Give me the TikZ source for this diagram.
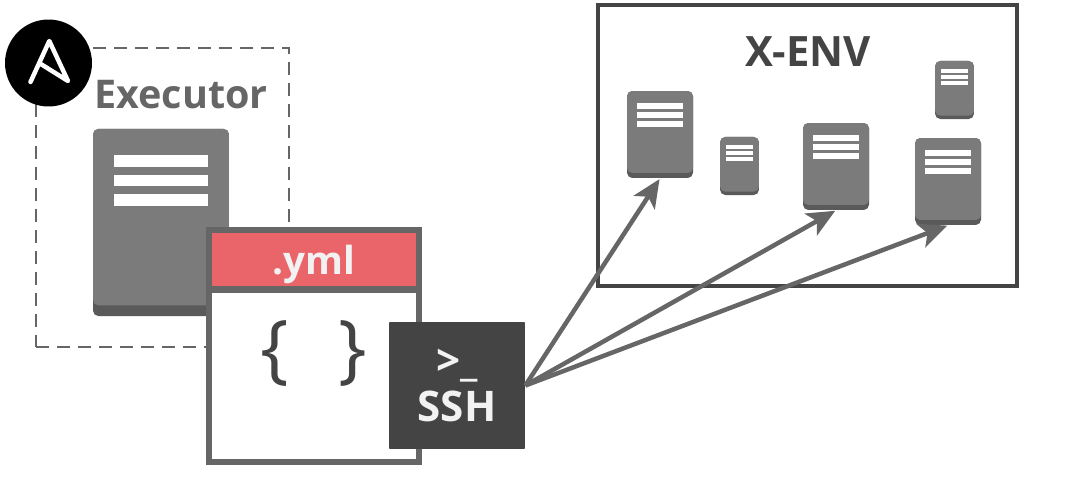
\documentclass[tikz,border=0pt]{standalone}
\usepackage{fontspec}
\setmainfont{Open Sans}
\usetikzlibrary{positioning,arrows.meta}
\definecolor{frame}{RGB}{102,102,102}
\definecolor{dark}{RGB}{68,68,68}
\definecolor{srvgray}{RGB}{123,123,123}
\definecolor{srvshade}{RGB}{90,90,90}
\definecolor{header}{RGB}{233,101,106}
\definecolor{paper}{RGB}{242,242,242}

% name, centre x, centre y, x scale, y scale
\newcommand{\serverbox}[5]{%
  \begin{scope}[shift={(#2,#3)},xscale=#4,yscale=#5,transform shape]
    \node[srvbase] (#1) at (0,0) {};
    \node[srvface] (#1-face) at (0,-2.5) {};
    \node[srvbar] (#1-a) at (0,-28.5) {};
    \node[srvbar] (#1-b) at (0,-19.5) {};
    \node[srvbar] (#1-c) at (0,-10.5) {};
  \end{scope}%
}

\begin{document}
\begin{tikzpicture}[
    x=0.02cm, y=-0.02cm,
    % Node styles
    srvbase/.style={rectangle, rounded corners=3pt, fill=srvshade, minimum width=1.32cm, minimum height=1.74cm, inner sep=0pt},
    srvface/.style={rectangle, rounded corners=3pt, fill=srvgray, minimum width=1.32cm, minimum height=1.64cm, inner sep=0pt},
    srvbar/.style={rectangle, fill=white, minimum width=0.92cm, minimum height=0.11cm, inner sep=0pt},
    title/.style={font=\fontsize{22.5}{27}\selectfont\bfseries, inner sep=0pt},
    filehead/.style={rectangle, draw=frame, line width=0.12cm, fill=header, text=paper, minimum width=4.2cm, minimum height=1.2cm,
                     font=\fontsize{22}{26}\selectfont\bfseries, inner sep=0pt, text depth=0pt},
    filebody/.style={rectangle, draw=frame, line width=0.12cm, fill=white, minimum width=4.2cm, minimum height=3.46cm, inner sep=0pt},
    terminal/.style={rectangle, rounded corners=0.5pt, fill=dark, text=paper, minimum width=2.72cm, minimum height=2.54cm, align=center,
                     font=\fontsize{24}{26}\selectfont\bfseries, inner sep=0pt},
    % Arrow styles
    sshflow/.style={-{Stealth[length=0.56cm, width=0.5cm, inset=0.14cm]}, line width=0.09cm, color=frame, shorten >=0.5pt}
]
\useasboundingbox (0,0) rectangle (1085,480);

% Executor
\node[rectangle, draw=frame, line width=0.055cm, dash pattern=on 0.26cm off 0.16cm, minimum width=5.06cm, minimum height=5.98cm] (executor_box) at (162.5,197.5) {};
\node[circle, fill=black, minimum size=1.74cm, inner sep=0pt] (logo) at (48.5,63) {};
\draw[white, line width=0.09cm, line join=round, line cap=round] (30.5,82) -- (49.3,41) -- (68,81) -- (40,63.5);
\node[title, text=frame] (executor_label) at (181,95) {Executor};
\serverbox{executor_srv}{161}{222.5}{2.06}{2.15}

% X-ENV
\node[rectangle, draw=dark, line width=0.08cm, minimum width=8.38cm, minimum height=5.62cm] (xenv_box) at (807.5,145.5) {};
\node[title, text=dark, font=\fontsize{23.8}{27}\selectfont\bfseries] (xenv_label) at (808,52) {X-ENV};
\serverbox{srv_a}{660}{134.5}{1}{1}
\serverbox{srv_b}{739.5}{166}{0.59}{0.667}
\serverbox{srv_c}{836}{166.5}{1}{1}
\serverbox{srv_d}{948}{181.5}{1}{1}
\serverbox{srv_e}{954.5}{90}{0.59}{0.667}

% Playbook
\node[filebody] (file_body) at (314,376) {};
\node[filehead] (file_head) at (314,259.5) {.yml};
\node[text=dark, font=\fontsize{43}{47}\selectfont, inner sep=0pt] (braces) at (314,353.5) {\{\hspace{1.0cm}\}};

% SSH
\node[terminal] (ssh) at (457,385.5) {>\_\\SSH};

% Connections
\draw[sshflow] (ssh.east) -- (srv_a.south);
\draw[sshflow] (ssh.east) -- (srv_c.south);
\draw[sshflow] (ssh.east) -- (srv_d.south);

\end{tikzpicture}
\end{document}
